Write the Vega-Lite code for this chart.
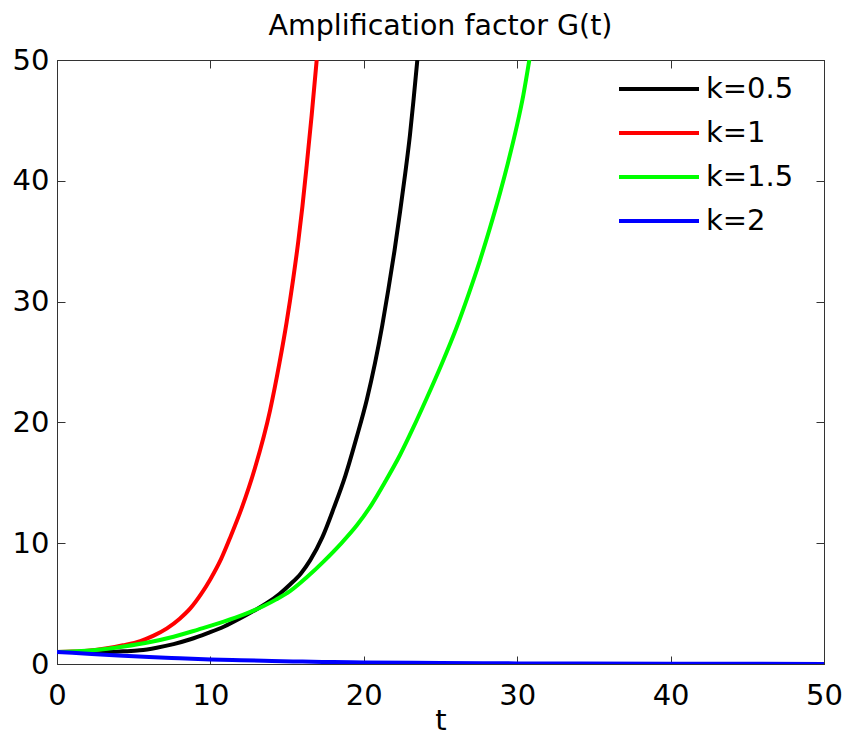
{
  "$schema": "https://vega.github.io/schema/vega-lite/v6.json",
  "width": 767,
  "height": 604,
  "autosize": {"type": "none"},
  "padding": {"left": 57, "top": 60, "right": 20, "bottom": 74},
  "background": "white",
  "title": {
    "text": "Amplification factor G(t)",
    "font": "DejaVu Sans",
    "fontSize": 28.5,
    "fontWeight": "normal",
    "color": "black",
    "anchor": "middle",
    "offset": 6
  },
  "config": {
    "view": {"stroke": "#333333", "strokeWidth": 1},
    "axis": {
      "labelFont": "DejaVu Sans",
      "labelFontSize": 29,
      "labelColor": "black",
      "labelFlush": false,
      "titleFont": "DejaVu Sans",
      "titleFontSize": 29,
      "titleFontWeight": "normal",
      "titleColor": "black",
      "domainColor": "#333333",
      "tickColor": "#333333",
      "tickSize": -8,
      "grid": false
    }
  },
  "data": {
    "values": [
      {"k": "k=0.5", "t": 0, "G": 1.0},
      {"k": "k=0.5", "t": 2, "G": 1.0},
      {"k": "k=0.5", "t": 3.3, "G": 1.0},
      {"k": "k=0.5", "t": 4.3, "G": 1.05},
      {"k": "k=0.5", "t": 5.4, "G": 1.13},
      {"k": "k=0.5", "t": 6.5, "G": 1.35},
      {"k": "k=0.5", "t": 7.6, "G": 1.65},
      {"k": "k=0.5", "t": 8.7, "G": 2.05},
      {"k": "k=0.5", "t": 9.78, "G": 2.54},
      {"k": "k=0.5", "t": 10.9, "G": 3.1},
      {"k": "k=0.5", "t": 11.95, "G": 3.78},
      {"k": "k=0.5", "t": 12.8, "G": 4.38},
      {"k": "k=0.5", "t": 13.69, "G": 5.05},
      {"k": "k=0.5", "t": 14.5, "G": 5.8},
      {"k": "k=0.5", "t": 15.21, "G": 6.6},
      {"k": "k=0.5", "t": 15.9, "G": 7.5},
      {"k": "k=0.5", "t": 16.51, "G": 8.6},
      {"k": "k=0.5", "t": 17.3, "G": 10.5},
      {"k": "k=0.5", "t": 18.04, "G": 12.9},
      {"k": "k=0.5", "t": 18.8, "G": 15.6},
      {"k": "k=0.5", "t": 19.54, "G": 18.8},
      {"k": "k=0.5", "t": 20.2, "G": 21.9},
      {"k": "k=0.5", "t": 20.73, "G": 24.9},
      {"k": "k=0.5", "t": 21.2, "G": 28.0},
      {"k": "k=0.5", "t": 21.6, "G": 31.0},
      {"k": "k=0.5", "t": 22.0, "G": 34.2},
      {"k": "k=0.5", "t": 22.36, "G": 37.4},
      {"k": "k=0.5", "t": 22.7, "G": 40.6},
      {"k": "k=0.5", "t": 23.01, "G": 43.8},
      {"k": "k=0.5", "t": 23.25, "G": 46.8},
      {"k": "k=0.5", "t": 23.49, "G": 50},
      {"k": "k=1", "t": 0, "G": 1.0},
      {"k": "k=1", "t": 1, "G": 1.03},
      {"k": "k=1", "t": 2, "G": 1.1},
      {"k": "k=1", "t": 3.26, "G": 1.3},
      {"k": "k=1", "t": 4.3, "G": 1.55},
      {"k": "k=1", "t": 5.43, "G": 1.9},
      {"k": "k=1", "t": 6.3, "G": 2.35},
      {"k": "k=1", "t": 7.17, "G": 2.95},
      {"k": "k=1", "t": 8.0, "G": 3.75},
      {"k": "k=1", "t": 8.69, "G": 4.6},
      {"k": "k=1", "t": 9.4, "G": 5.8},
      {"k": "k=1", "t": 9.99, "G": 7.0},
      {"k": "k=1", "t": 10.7, "G": 8.7},
      {"k": "k=1", "t": 11.3, "G": 10.5},
      {"k": "k=1", "t": 12.04, "G": 12.9},
      {"k": "k=1", "t": 12.9, "G": 16.2},
      {"k": "k=1", "t": 13.89, "G": 21.0},
      {"k": "k=1", "t": 14.5, "G": 24.9},
      {"k": "k=1", "t": 14.97, "G": 28.3},
      {"k": "k=1", "t": 15.4, "G": 31.9},
      {"k": "k=1", "t": 15.73, "G": 35.0},
      {"k": "k=1", "t": 16.0, "G": 37.9},
      {"k": "k=1", "t": 16.28, "G": 41.3},
      {"k": "k=1", "t": 16.6, "G": 45.4},
      {"k": "k=1", "t": 16.93, "G": 50},
      {"k": "k=1.5", "t": 0, "G": 1.0},
      {"k": "k=1.5", "t": 1, "G": 1.03},
      {"k": "k=1.5", "t": 2.17, "G": 1.12},
      {"k": "k=1.5", "t": 3.3, "G": 1.27},
      {"k": "k=1.5", "t": 4.35, "G": 1.45},
      {"k": "k=1.5", "t": 6.0, "G": 1.8},
      {"k": "k=1.5", "t": 7.6, "G": 2.26},
      {"k": "k=1.5", "t": 9.2, "G": 2.85},
      {"k": "k=1.5", "t": 10.87, "G": 3.5},
      {"k": "k=1.5", "t": 12.2, "G": 4.1},
      {"k": "k=1.5", "t": 13.47, "G": 4.8},
      {"k": "k=1.5", "t": 14.3, "G": 5.35},
      {"k": "k=1.5", "t": 15.21, "G": 6.05},
      {"k": "k=1.5", "t": 16.3, "G": 7.2},
      {"k": "k=1.5", "t": 17.39, "G": 8.5},
      {"k": "k=1.5", "t": 18.5, "G": 9.95},
      {"k": "k=1.5", "t": 19.56, "G": 11.5},
      {"k": "k=1.5", "t": 20.51, "G": 13.2},
      {"k": "k=1.5", "t": 21.4, "G": 15.1},
      {"k": "k=1.5", "t": 22.36, "G": 17.3},
      {"k": "k=1.5", "t": 23.2, "G": 19.5},
      {"k": "k=1.5", "t": 24.1, "G": 22.0},
      {"k": "k=1.5", "t": 25.1, "G": 24.9},
      {"k": "k=1.5", "t": 26.06, "G": 27.9},
      {"k": "k=1.5", "t": 26.8, "G": 30.5},
      {"k": "k=1.5", "t": 27.57, "G": 33.4},
      {"k": "k=1.5", "t": 28.2, "G": 36.0},
      {"k": "k=1.5", "t": 28.88, "G": 39.0},
      {"k": "k=1.5", "t": 29.4, "G": 41.5},
      {"k": "k=1.5", "t": 29.97, "G": 44.5},
      {"k": "k=1.5", "t": 30.4, "G": 47.1},
      {"k": "k=1.5", "t": 30.79, "G": 50},
      {"k": "k=2", "t": 0, "G": 1.0},
      {"k": "k=2", "t": 2, "G": 0.85},
      {"k": "k=2", "t": 4, "G": 0.7},
      {"k": "k=2", "t": 6, "G": 0.57},
      {"k": "k=2", "t": 8, "G": 0.47},
      {"k": "k=2", "t": 10, "G": 0.38},
      {"k": "k=2", "t": 12, "G": 0.31},
      {"k": "k=2", "t": 14, "G": 0.25},
      {"k": "k=2", "t": 16, "G": 0.2},
      {"k": "k=2", "t": 18, "G": 0.16},
      {"k": "k=2", "t": 20, "G": 0.13},
      {"k": "k=2", "t": 25, "G": 0.08},
      {"k": "k=2", "t": 30, "G": 0.05},
      {"k": "k=2", "t": 40, "G": 0.02},
      {"k": "k=2", "t": 50, "G": 0.01}
    ]
  },
  "layer": [
    {
      "mark": {"type": "line", "strokeWidth": 4, "clip": true, "interpolate": "monotone"},
      "encoding": {
        "x": {
          "field": "t", "type": "quantitative",
          "scale": {"domain": [0, 50], "nice": false, "zero": false},
          "axis": {"orient": "bottom", "values": [0, 10, 20, 30, 40, 50], "title": "t", "labelPadding": 25, "titlePadding": -4}
        },
        "y": {
          "field": "G", "type": "quantitative",
          "scale": {"domain": [0, 50], "nice": false, "zero": false},
          "axis": {"orient": "left", "values": [0, 10, 20, 30, 40, 50], "title": null, "labelPadding": 16}
        },
        "color": {
          "field": "k", "type": "nominal",
          "scale": {"domain": ["k=0.5", "k=1", "k=1.5", "k=2"], "range": ["#000000", "#ff0000", "#00ff00", "#0000ff"]},
          "legend": {
            "title": null,
            "orient": "none",
            "legendX": 560,
            "legendY": 7,
            "symbolType": "stroke",
            "symbolSize": 6400,
            "symbolStrokeWidth": 4,
            "labelFont": "DejaVu Sans",
            "labelFontSize": 29,
            "labelColor": "black",
            "labelOffset": 5,
            "clipHeight": 44,
            "rowPadding": 0,
            "padding": 0
          }
        }
      }
    },
    {
      "mark": {"type": "line", "strokeOpacity": 0, "clip": true},
      "encoding": {
        "x": {
          "field": "t", "type": "quantitative",
          "scale": {"domain": [0, 50], "nice": false, "zero": false},
          "axis": {"orient": "top", "values": [0, 10, 20, 30, 40, 50], "title": null, "labels": false}
        },
        "y": {
          "field": "G", "type": "quantitative",
          "scale": {"domain": [0, 50], "nice": false, "zero": false},
          "axis": {"orient": "right", "values": [0, 10, 20, 30, 40, 50], "title": null, "labels": false}
        },
        "detail": {"field": "k", "type": "nominal"}
      }
    }
  ],
  "resolve": {"axis": {"x": "independent", "y": "independent"}}
}
